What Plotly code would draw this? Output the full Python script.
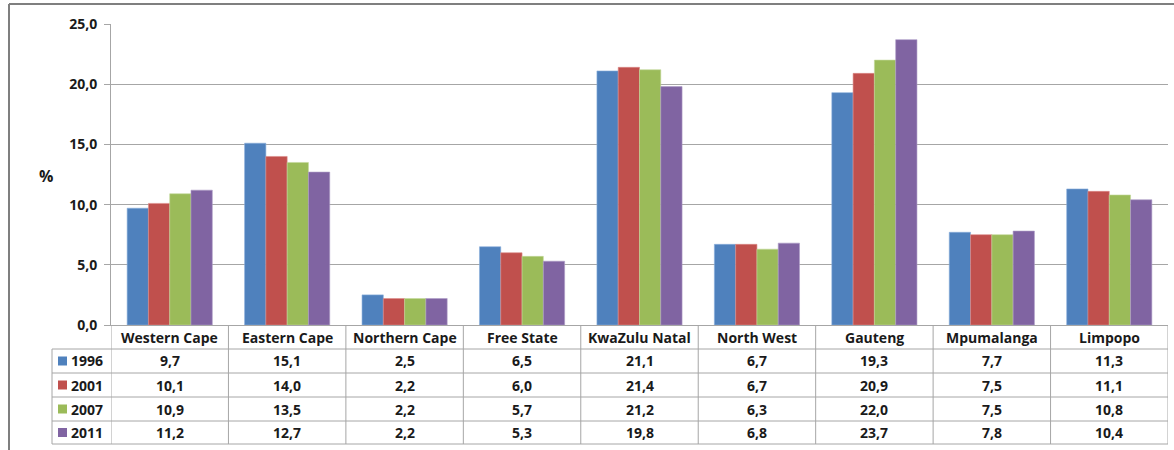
import plotly.graph_objects as go

provinces = ["Western Cape", "Eastern Cape", "Northern Cape", "Free State", "KwaZulu Natal",
             "North West", "Gauteng", "Mpumalanga", "Limpopo"]
years = ["1996", "2001", "2007", "2011"]
v1996 = [9.7, 15.1, 2.5, 6.5, 21.1, 6.7, 19.3, 7.7, 11.3]
v2001 = [10.1, 14.0, 2.2, 6.0, 21.4, 6.7, 20.9, 7.5, 11.1]
v2007 = [10.9, 13.5, 2.2, 5.7, 21.2, 6.3, 22.0, 7.5, 10.8]
v2011 = [11.2, 12.7, 2.2, 5.3, 19.8, 6.8, 23.7, 7.8, 10.4]
series = [v1996, v2001, v2007, v2011]
colors = ["#4f81bd", "#c0504d", "#9bbb59", "#8064a2"]
outlines = ["#8aaedb", "#dc8a88", "#c3d99a", "#ad9cc6"]

W, H = 1174, 450
L, R, T, B = 111, 6, 24, 125
PH = H - T - B
PW = W - L - R
FONT = "Open Sans"
TXT = "#1a1a1a"
GRID = "#a6a6a6"
FS = 14


def py(px):
    return (H - B - px) / PH


def pxx(px):
    return (px - L) / PW


fig = go.Figure()
for yr, vals, c, oc in zip(years, series, colors, outlines):
    fig.add_trace(go.Bar(name=yr, x=provinces, y=vals, marker_color=c,
                         marker_line=dict(color=oc, width=0.6)))

shapes = []
annotations = []
n = len(provinces)
row_bounds = [349, 373, 397, 421, 444]
# horizontal table lines
for yb in row_bounds:
    shapes.append(dict(type="line", xref="paper", yref="paper", x0=pxx(52), x1=1.0,
                       y0=py(yb), y1=py(yb), line=dict(color=GRID, width=1)))
# vertical table lines at category boundaries
for i in range(n + 1):
    shapes.append(dict(type="line", xref="x", yref="paper", x0=i - 0.5, x1=i - 0.5,
                       y0=0, y1=py(444), line=dict(color=GRID, width=1)))
shapes.append(dict(type="line", xref="paper", yref="paper", x0=pxx(52), x1=pxx(52),
                   y0=py(349), y1=py(444), line=dict(color=GRID, width=1)))
# outer chart border (left and top)
shapes.append(dict(type="line", xref="paper", yref="paper", x0=pxx(9), x1=pxx(9),
                   y0=py(4), y1=py(452), line=dict(color="#7f7f7f", width=2)))
shapes.append(dict(type="line", xref="paper", yref="paper", x0=pxx(9), x1=pxx(1176),
                   y0=py(4), y1=py(4), line=dict(color="#7f7f7f", width=2)))

row_centers = [361, 385, 409, 432.5]
for r, (yr, vals, c) in enumerate(zip(years, series, colors)):
    yc = row_centers[r]
    shapes.append(dict(type="rect", xref="paper", yref="paper", x0=pxx(58), x1=pxx(67),
                       y0=py(yc + 4.5), y1=py(yc - 4.5), fillcolor=c, line=dict(width=0)))
    annotations.append(dict(text=yr, xref="paper", yref="paper", x=pxx(69), y=py(yc),
                            xanchor="left", yanchor="middle", showarrow=False,
                            font=dict(family=FONT, size=FS, color=TXT, weight="bold")))
    for i, v in enumerate(vals):
        annotations.append(dict(text=f"{v:.1f}".replace(".", ","), xref="x", yref="paper",
                                x=i, y=py(yc), xanchor="center", yanchor="middle",
                                showarrow=False,
                                font=dict(family=FONT, size=FS, color=TXT, weight="bold")))
# header labels
for i, p in enumerate(provinces):
    annotations.append(dict(text=p, xref="x", yref="paper", x=i, y=py(337),
                            xanchor="center", yanchor="middle", showarrow=False,
                            font=dict(family=FONT, size=FS, color=TXT, weight="bold")))
annotations.append(dict(text="%", xref="paper", yref="paper", x=pxx(46), y=py(176),
                        xanchor="center", yanchor="middle", showarrow=False,
                        font=dict(family=FONT, size=16, color=TXT, weight="bold")))

fig.update_layout(
    width=W, height=H,
    margin=dict(l=L, r=R, t=T, b=B),
    paper_bgcolor="white", plot_bgcolor="white",
    barmode="group", bargap=0.275, bargroupgap=0,
    showlegend=False,
    separators=",.",
    shapes=shapes, annotations=annotations,
    xaxis=dict(showticklabels=False, showgrid=False, showline=True, linecolor=GRID,
               linewidth=1, ticks="", range=[-0.5, n - 0.5]),
    yaxis=dict(range=[0, 25], dtick=5, tickformat=".1f", showgrid=True, gridcolor=GRID,
               gridwidth=1, showline=True, linecolor=GRID, linewidth=1, ticks="outside",
               ticklen=6, tickcolor=GRID, zeroline=False, ticklabelstandoff=4,
               tickfont=dict(family=FONT, size=FS, color=TXT, weight="bold")),
)

fig.write_html("out.html")
